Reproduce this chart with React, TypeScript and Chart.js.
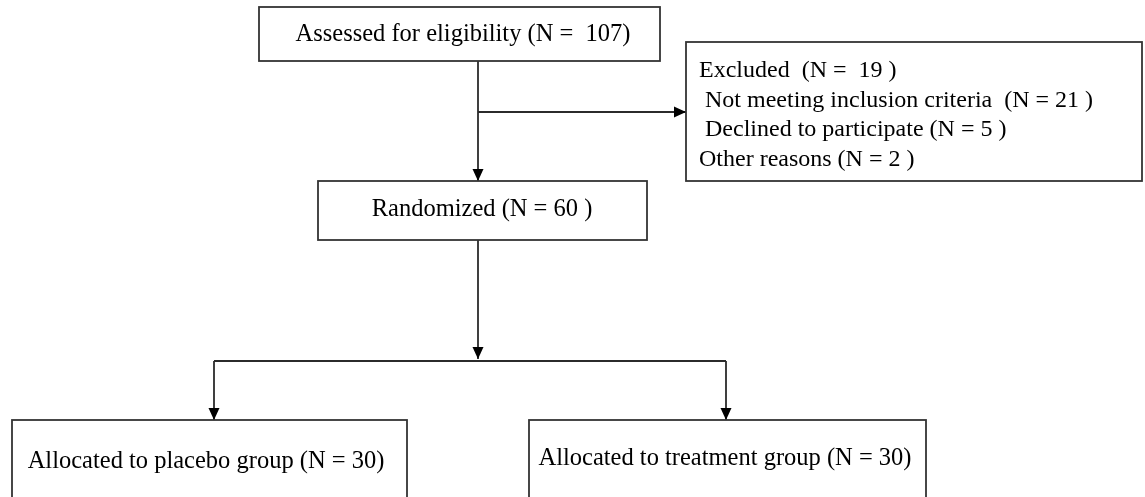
import React, { useEffect, useRef } from "react";
import Chart from "chart.js/auto";

// Flowchart nodes (in a 0..1145 x 0..497 coordinate space, y downward)
const nodeNames = ["assessed", "excluded", "randomized", "placebo", "treatment"];
const nodeLeft = [259, 686, 318, 12, 529];
const nodeTop = [7, 42, 181, 420, 420];
const nodeRight = [660, 1142, 647, 407, 926];
const nodeBottom = [61, 181, 240, 505, 505];
const nodeLines: string[][] = [
  ["Assessed for eligibility (N =  107)"],
  [
    "Excluded  (N =  19 )",
    " Not meeting inclusion criteria  (N = 21 )",
    " Declined to participate (N = 5 )",
    "Other reasons (N = 2 )",
  ],
  ["Randomized (N = 60 )"],
  ["Allocated to placebo group (N = 30)"],
  ["Allocated to treatment group (N = 30)"],
];
const nodeAlign = ["center", "left", "center", "center", "center"];
const nodeTextX = [463, 699, 482, 206, 725];
const nodeTextY = [35, 71, 210, 462, 459];
const lineGap = 29.5;

// Connectors: polylines [x,y,...]; arrow at last point
const edgeNames = ["assess-random", "assess-exclude", "random-split", "split-left", "split-right", "split-bar"];
const edgePoints: number[][] = [
  [478, 61, 478, 181],
  [478, 112, 686, 112],
  [478, 240, 478, 359],
  [214, 361, 214, 420],
  [726, 361, 726, 420],
  [214, 361, 726, 361],
];
const edgeArrow = [true, true, true, true, true, false];

const FONT = '"Liberation Serif", "Times New Roman", serif';

export default function App() {
  const ref = useRef<HTMLCanvasElement | null>(null);
  useEffect(() => {
    document.body.style.margin = "0";
    const canvas = ref.current!;
    const flowPlugin = {
      id: "flow",
      afterDraw(chart: any) {
        const ctx = chart.ctx as CanvasRenderingContext2D;
        const xs = chart.scales.x;
        const ys = chart.scales.y;
        const px = (v: number) => xs.getPixelForValue(v);
        const py = (v: number) => ys.getPixelForValue(v);
        ctx.save();
        ctx.fillStyle = "#ffffff";
        ctx.fillRect(0, 0, chart.width, chart.height);
        // edges
        ctx.strokeStyle = "#2b2b2b";
        ctx.fillStyle = "#000000";
        ctx.lineWidth = 1.8;
        edgePoints.forEach((pts, i) => {
          ctx.beginPath();
          for (let k = 0; k < pts.length; k += 2) {
            const X = px(pts[k]);
            const Y = py(pts[k + 1]);
            if (k === 0) ctx.moveTo(X, Y);
            else ctx.lineTo(X, Y);
          }
          ctx.stroke();
          if (edgeArrow[i]) {
            const n = pts.length;
            const x1 = px(pts[n - 2]);
            const y1 = py(pts[n - 1]);
            const x0 = px(pts[n - 4]);
            const y0 = py(pts[n - 3]);
            const ang = Math.atan2(y1 - y0, x1 - x0);
            const L = 12;
            const W = 5.5;
            ctx.beginPath();
            ctx.moveTo(x1, y1);
            ctx.lineTo(x1 - L * Math.cos(ang) + W * Math.sin(ang), y1 - L * Math.sin(ang) - W * Math.cos(ang));
            ctx.lineTo(x1 - L * Math.cos(ang) - W * Math.sin(ang), y1 - L * Math.sin(ang) + W * Math.cos(ang));
            ctx.closePath();
            ctx.fill();
          }
        });
        // boxes
        ctx.strokeStyle = "#333333";
        ctx.lineWidth = 1.8;
        nodeNames.forEach((_, i) => {
          const x0 = px(nodeLeft[i]);
          const y0 = py(nodeTop[i]);
          const x1 = px(nodeRight[i]);
          const y1 = py(nodeBottom[i]);
          ctx.fillStyle = "#ffffff";
          ctx.fillRect(x0, y0, x1 - x0, y1 - y0);
          ctx.strokeRect(x0, y0, x1 - x0, y1 - y0);
          ctx.fillStyle = "#000000";
          ctx.textBaseline = "middle";
          ctx.textAlign = nodeAlign[i] as CanvasTextAlign;
          ctx.font = (i === 1 ? "24px " : "24.5px ") + FONT;
          nodeLines[i].forEach((t, j) => {
            ctx.fillText(t, px(nodeTextX[i]), py(nodeTextY[i] + j * lineGap));
          });
        });
        ctx.restore();
      },
    };
    const chart = new Chart(canvas, {
      type: "scatter",
      data: { datasets: [{ data: [], pointRadius: 0 }] },
      options: {
        animation: false,
        responsive: false,
        maintainAspectRatio: false,
        layout: { padding: 0 },
        plugins: { legend: { display: false }, tooltip: { enabled: false } },
        scales: {
          x: { type: "linear", min: 0, max: 1145, display: false },
          y: { type: "linear", min: 0, max: 497, reverse: true, display: false },
        },
      },
      plugins: [flowPlugin],
    });
    return () => chart.destroy();
  }, []);
  return (
    <div style={{ width: 1145, height: 497, background: "#fff" }}>
      <canvas ref={ref} width={1145} height={497} style={{ display: "block" }} />
    </div>
  );
}
